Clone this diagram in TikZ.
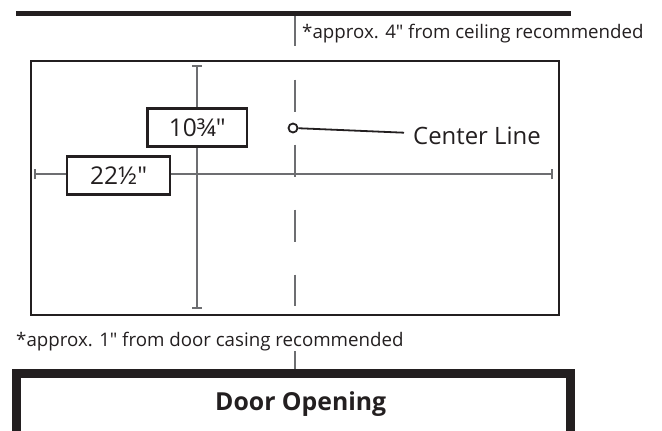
\documentclass[tikz,border=0pt]{standalone}
\usepackage{fontspec}
\setmainfont{Open Sans}
\definecolor{ink}{HTML}{231F20}
\definecolor{dim}{HTML}{6D6E71}
\tikzset{
  x=1pt,y=-1pt,
  lbl/.style={inner sep=0,anchor=base west,text=ink,font=\fontsize{18.7}{22}\selectfont},
  bigl/.style={inner sep=0,anchor=base west,text=ink,font=\fontsize{23.9}{28}\selectfont},
  dimbox/.style={draw=ink,line width=2.4pt,fill=white,minimum height=38pt,text=ink,inner sep=0,font=\fontsize{24.5}{28}\selectfont},
  dimline/.style={draw=dim,line width=2.3pt},
  endcap/.style={draw=dim,line width=1.8pt},
  cline/.style={draw=dim,line width=1.5pt,dash pattern=on 32pt off 33pt},
  tick/.style={draw=dim,line width=1.3pt},
  heavy/.style={draw=ink,line width=4.8pt},
  frame/.style={draw=ink,line width=1.6pt}
}
\begin{document}
\begin{tikzpicture}
\useasboundingbox (0,0) rectangle (662,431);
% ceiling
\coordinate (ceilL) at (16,13.7);
\coordinate (ceilR) at (571,13.7);
\coordinate (ceilT) at (295,16);
\coordinate (ceilB) at (295,46);
\draw[heavy] (ceilL) -- (ceilR);
\draw[tick] (ceilT) -- (ceilB);
\node[lbl] (note1) at (302,38) {*approx. 4″ from ceiling recommended};
% plate
\node[frame,minimum width=528pt,minimum height=254pt,inner sep=0] (plate) at (295,188) {};
% dimension lines
\coordinate (vT) at (197,66);
\coordinate (vB) at (197,308);
\coordinate (hL) at (35,174);
\coordinate (hR) at (552,174);
\draw[dimline] (vT) -- (vB);
\draw[dimline] (hL) -- (hR);
\draw[endcap] ([xshift=-5pt]vT) -- ([xshift=5pt]vT);
\draw[endcap] ([xshift=-5pt]vB) -- ([xshift=5pt]vB);
\draw[endcap] ([yshift=-5pt]hL) -- ([yshift=5pt]hL);
\draw[endcap] ([yshift=-5pt]hR) -- ([yshift=5pt]hR);
% center line
\coordinate (cT) at (295,79.5);
\coordinate (cB) at (295,306);
\draw[cline] (cT) -- (cB);
% boxes
\node[dimbox,minimum width=99.5pt] (b1) at (197.2,127.5) {10¾″};
\node[dimbox,minimum width=103pt] (b2) at (118.5,175.5) {22½″};
% leader
\node[circle,draw=ink,line width=1.8pt,fill=white,minimum size=9pt,inner sep=0] (dot) at (293,128) {};
\coordinate (leadEnd) at (404,132.7);
\draw[draw=ink,line width=1.8pt] (dot) -- (leadEnd);
\node[bigl] (cl) at (413,144) {Center Line};
% door
\node[lbl] (note2) at (16,346) {*approx. 1″ from door casing recommended};
\coordinate (tickT) at (295,351);
\coordinate (tickB) at (295,369);
\draw[tick] (tickT) -- (tickB);
\coordinate (dA) at (16.5,445);
\coordinate (dB) at (16.5,373);
\coordinate (dC) at (570.5,373);
\coordinate (dD) at (570.5,445);
\begin{scope}
\clip (0,0) rectangle (662,431);
\draw[draw=ink,line width=9pt] (dA) -- (dB) -- (dC) -- (dD);
\end{scope}
\node[inner sep=0,anchor=base west,text=ink,font=\fontsize{24.8}{28}\selectfont\bfseries] (door) at (215,410) {Door Opening};
\end{tikzpicture}
\end{document}
